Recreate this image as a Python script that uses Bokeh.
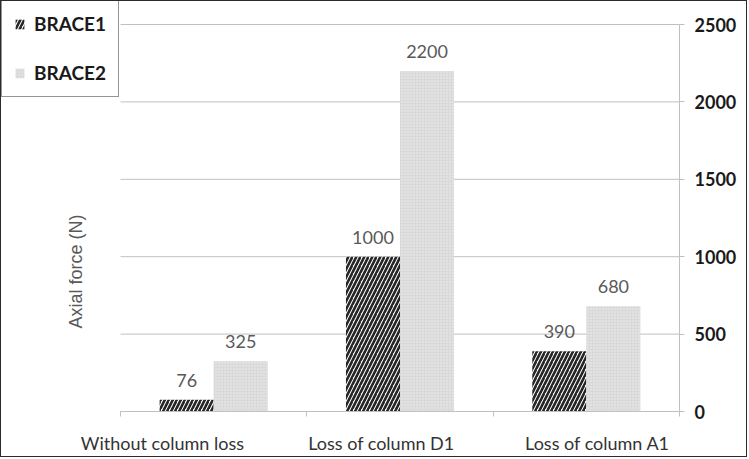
from math import pi
from bokeh.plotting import figure
from bokeh.models import (ColumnDataSource, Range1d, FixedTicker, Legend,
                          LegendItem, Label)
from bokeh.core.properties import value
from bokeh.embed import file_html
from bokeh.resources import INLINE

categories = ["Without column loss", "Loss of column D1", "Loss of column A1"]
brace1 = [76, 1000, 390]
brace2 = [325, 2200, 680]
y_ticks = [0, 500, 1000, 1500, 2000, 2500]
series_names = ["BRACE1", "BRACE2"]
y_title = "Axial force (N)"

# ---- layout constants (pixels) ----
W, H = 747, 457
FRAME_RIGHT = 678        # canvas x of the value axis
CAT_LEFT = 119           # canvas x where the first category starts
BOTTOM_BORDER = 47
ZERO_TO_TOP_PX = 387     # pixels between 0 and the top tick
FONT = "Lato"

n = len(categories)
x_start = -n * CAT_LEFT / (FRAME_RIGHT - CAT_LEFT)
frame_h = H - BOTTOM_BORDER
y_end = y_ticks[-1] * frame_h / ZERO_TO_TOP_PX
units_per_px = y_ticks[-1] / ZERO_TO_TOP_PX

centers = [i + 0.5 for i in range(n)]
label_pos = [0.225, 1.40, 2.56]   # where the category texts sit in the reference
bw = 0.29

src1 = ColumnDataSource(dict(x=[c - bw / 2 for c in centers], top=brace1,
                             lab=[str(v) for v in brace1]))
src2 = ColumnDataSource(dict(x=[c + bw / 2 for c in centers], top=brace2,
                             lab=[str(v) for v in brace2]))

p = figure(width=W, height=H, x_range=Range1d(x_start, n),
           y_range=Range1d(0, y_end), output_backend="svg", toolbar_location=None,
           y_axis_location="right",
           min_border_left=0, min_border_right=W - FRAME_RIGHT, min_border_top=0,
           min_border_bottom=BOTTOM_BORDER)
p.styles = {"border": "1px solid #2b2b2b"}
p.outline_line_color = None
p.background_fill_color = "white"
p.border_fill_color = "white"

# horizontal grid lines, only over the category area
p.xgrid.visible = False
p.ygrid.visible = False
p.segment(x0=[0] * len(y_ticks), x1=[n] * len(y_ticks), y0=y_ticks, y1=y_ticks,
          line_color="#c0c0c0", line_width=1)

r1 = p.vbar(x="x", top="top", width=bw, bottom=0, source=src1,
            fill_color="white", line_color=None,
            hatch_pattern="/", hatch_color="#262626", hatch_weight=2.6, hatch_scale=8)
r2 = p.vbar(x="x", top="top", width=bw, bottom=0, source=src2,
            fill_color="#d9d9d9", line_color=None,
            hatch_pattern="dot", hatch_color="#efefef", hatch_weight=1, hatch_scale=3)

for s in (src1, src2):
    p.text(x="x", y="top", text="lab", source=s, text_align="center",
           text_baseline="bottom", y_offset=-13, text_font=value(FONT),
           text_font_size="18px", text_color="#595959")

# right value axis
ya = p.yaxis[0]
ya.ticker = FixedTicker(ticks=y_ticks)
ya.bounds = (y_ticks[0] - 5 * units_per_px, y_ticks[-1])
ya.axis_line_color = "#c0c0c0"
ya.major_tick_line_color = "#c0c0c0"
ya.major_tick_out = 5
ya.major_tick_in = 0
ya.minor_tick_line_color = None
ya.major_label_standoff = 10
ya.major_label_text_font = FONT
ya.major_label_text_font_style = "bold"
ya.major_label_text_font_size = "18px"
ya.major_label_text_color = "#1a1a1a"

# category axis
xa = p.xaxis[0]
xa.bounds = (0, n)
xa.ticker = FixedTicker(ticks=label_pos, minor_ticks=[float(i) for i in range(n + 1)])
xa.major_label_overrides = {c: name for c, name in zip(label_pos, categories)}
xa.axis_line_color = "#c0c0c0"
xa.major_tick_out = 0
xa.major_tick_in = 0
xa.minor_tick_out = 5
xa.minor_tick_in = 0
xa.minor_tick_line_color = "#c0c0c0"
xa.major_label_standoff = 15
xa.major_label_text_font = FONT
xa.major_label_text_font_size = "18px"
xa.major_label_text_color = "#333333"

# y title
p.add_layout(Label(x=(74 - CAT_LEFT) * n / (FRAME_RIGHT - CAT_LEFT), y=904,
                   text=y_title, angle=pi / 2, text_align="center",
                   text_baseline="middle", text_font="Liberation Sans",
                   text_font_size="18px", text_color="#595959"))

legend = Legend(items=[LegendItem(label=series_names[0], renderers=[r1]),
                       LegendItem(label=series_names[1], renderers=[r2])],
                location=(0, frame_h - 96))
legend.border_line_color = "#2b2b2b"
legend.border_line_width = 1.5
legend.background_fill_color = "white"
legend.label_text_font = FONT
legend.label_text_font_style = "bold"
legend.label_text_font_size = "19px"
legend.label_text_color = "#1a1a1a"
legend.glyph_width = 11
legend.glyph_height = 12
legend.label_height = 20
legend.spacing = 26
legend.padding = 12
legend.margin = 0
legend.label_standoff = 9
p.add_layout(legend, "center")

open("out.html", "w").write(file_html(p, INLINE))
